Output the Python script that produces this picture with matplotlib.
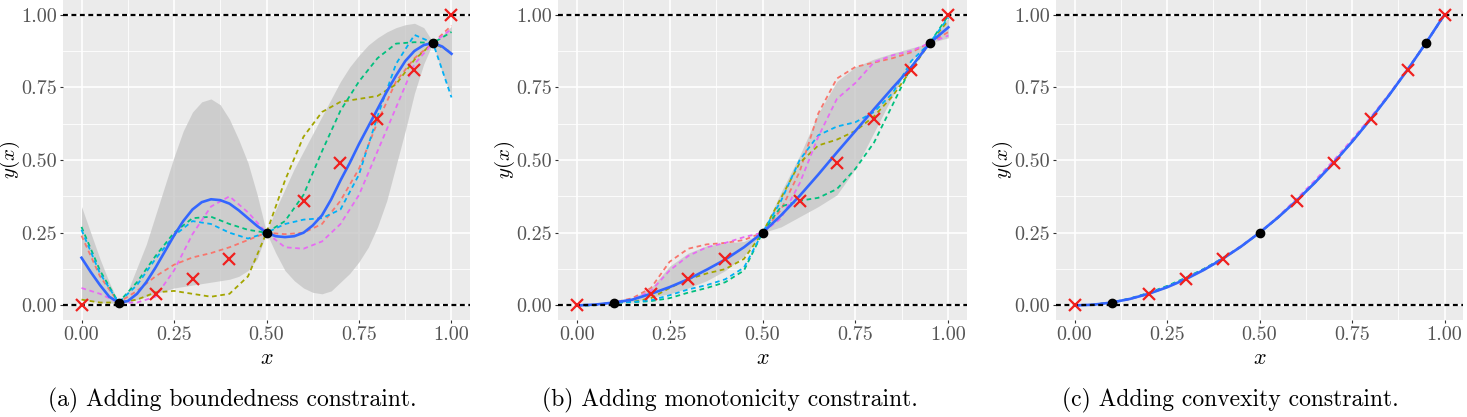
import numpy as np
import matplotlib
matplotlib.use("Agg")
import matplotlib.pyplot as plt

plt.rcParams['font.family'] = ['cmr10', 'DejaVu Serif']
plt.rcParams['mathtext.fontset'] = 'cm'
plt.rcParams['axes.formatter.use_mathtext'] = True
plt.rcParams['axes.unicode_minus'] = False

# common x grid of the read-off sample curves
x_grid = [0.0, 0.05, 0.1, 0.15, 0.2, 0.25, 0.3, 0.35, 0.4, 0.45, 0.5,
          0.55, 0.6, 0.65, 0.7, 0.75, 0.8, 0.85, 0.9, 0.95, 1.0]
# finer grid for the mean / band of panel (a)
x_fine = [0.0, 0.025, 0.05, 0.075, 0.1, 0.125, 0.15, 0.175, 0.2, 0.225, 0.25,
          0.275, 0.3, 0.325, 0.35, 0.375, 0.4, 0.425, 0.45, 0.475, 0.5,
          0.525, 0.55, 0.575, 0.6, 0.625, 0.65, 0.675, 0.7, 0.725, 0.75,
          0.775, 0.8, 0.825, 0.85, 0.875, 0.9, 0.925, 0.95, 0.975, 1.0]

# test points (red crosses) and training points (black dots)
test_x = [0.0, 0.2, 0.3, 0.4, 0.6, 0.7, 0.8, 0.9, 1.0]
test_y = [0.0, 0.04, 0.09, 0.16, 0.36, 0.49, 0.64, 0.81, 1.0]
train_x = [0.1, 0.5, 0.95]
train_y = [0.01, 0.25, 0.9025]

# (a) boundedness
a_mean = [0.164, 0.115, 0.07, 0.03, 0.01, 0.015, 0.04, 0.08, 0.13, 0.185, 0.24,
          0.29, 0.33, 0.355, 0.365, 0.362, 0.35, 0.327, 0.30, 0.273, 0.25,
          0.238, 0.235, 0.238, 0.25, 0.275, 0.31, 0.365, 0.43, 0.49, 0.555,
          0.615, 0.675, 0.735, 0.79, 0.84, 0.875, 0.895, 0.9025, 0.89, 0.865]
a_lower = [0.02, 0.015, 0.01, 0.009, 0.008, 0.012, 0.02, 0.03, 0.04, 0.05, 0.06,
           0.065, 0.07, 0.075, 0.08, 0.085, 0.09, 0.10, 0.12, 0.16, 0.25,
           0.18, 0.12, 0.085, 0.06, 0.045, 0.04, 0.05, 0.08, 0.11, 0.15,
           0.20, 0.27, 0.36, 0.48, 0.60, 0.73, 0.83, 0.9025, 0.80, 0.72]
a_upper = [0.34, 0.25, 0.16, 0.08, 0.012, 0.05, 0.13, 0.21, 0.31, 0.41, 0.51,
           0.60, 0.665, 0.70, 0.71, 0.69, 0.64, 0.57, 0.49, 0.38, 0.25,
           0.33, 0.40, 0.47, 0.53, 0.59, 0.65, 0.71, 0.77, 0.82, 0.86,
           0.895, 0.92, 0.94, 0.955, 0.965, 0.97, 0.955, 0.905, 0.93, 0.96]
a_samples = [
    [0.24, 0.10, 0.01, 0.05, 0.10, 0.14, 0.165, 0.18, 0.20, 0.225, 0.25,
     0.245, 0.25, 0.28, 0.36, 0.47, 0.63, 0.77, 0.85, 0.9025, 0.962],
    [0.02, 0.01, 0.01, 0.02, 0.045, 0.05, 0.04, 0.03, 0.04, 0.10, 0.25,
     0.43, 0.58, 0.665, 0.70, 0.71, 0.72, 0.76, 0.845, 0.9025, 0.87],
    [0.27, 0.12, 0.01, 0.08, 0.17, 0.25, 0.30, 0.305, 0.28, 0.26, 0.25,
     0.29, 0.38, 0.53, 0.67, 0.77, 0.85, 0.90, 0.905, 0.9025, 0.94],
    [0.26, 0.11, 0.01, 0.07, 0.16, 0.24, 0.29, 0.28, 0.25, 0.23, 0.25,
     0.28, 0.295, 0.30, 0.33, 0.45, 0.65, 0.83, 0.93, 0.9025, 0.715],
    [0.06, 0.04, 0.01, 0.01, 0.03, 0.12, 0.245, 0.34, 0.375, 0.32, 0.25,
     0.20, 0.195, 0.22, 0.28, 0.38, 0.53, 0.68, 0.83, 0.9025, 0.95],
]

# (b) monotonicity
b_mean = [0.0, 0.003, 0.01, 0.02, 0.04, 0.063, 0.09, 0.123, 0.158, 0.20, 0.25,
          0.31, 0.377, 0.45, 0.526, 0.60, 0.675, 0.748, 0.819, 0.9025, 0.956]
b_lower = [0.0, 0.002, 0.01, 0.012, 0.028, 0.04, 0.06, 0.085, 0.12, 0.17, 0.25,
           0.27, 0.305, 0.34, 0.38, 0.47, 0.595, 0.72, 0.84, 0.9025, 0.92]
b_upper = [0.0, 0.004, 0.01, 0.025, 0.06, 0.135, 0.18, 0.205, 0.215, 0.22, 0.25,
           0.39, 0.515, 0.66, 0.77, 0.82, 0.847, 0.867, 0.885, 0.9025, 0.99]
b_samples = [
    [0.0, 0.002, 0.01, 0.025, 0.06, 0.15, 0.195, 0.21, 0.215, 0.225, 0.25,
     0.33, 0.46, 0.66, 0.78, 0.82, 0.835, 0.85, 0.87, 0.9025, 0.94],
    [0.0, 0.001, 0.01, 0.012, 0.025, 0.06, 0.09, 0.11, 0.125, 0.16, 0.25,
     0.37, 0.49, 0.55, 0.57, 0.60, 0.65, 0.72, 0.81, 0.9025, 0.98],
    [0.0, 0.001, 0.01, 0.011, 0.015, 0.025, 0.044, 0.06, 0.08, 0.12, 0.25,
     0.34, 0.36, 0.37, 0.40, 0.47, 0.56, 0.69, 0.82, 0.9025, 0.997],
    [0.0, 0.001, 0.01, 0.012, 0.018, 0.035, 0.055, 0.07, 0.09, 0.13, 0.25,
     0.36, 0.50, 0.585, 0.615, 0.63, 0.665, 0.73, 0.84, 0.9025, 0.99],
    [0.0, 0.002, 0.01, 0.02, 0.05, 0.12, 0.17, 0.20, 0.215, 0.235, 0.25,
     0.30, 0.42, 0.58, 0.71, 0.765, 0.836, 0.86, 0.875, 0.9025, 0.928],
]

# (c) convexity
c_mean = [0.0, 0.0025, 0.01, 0.0225, 0.04, 0.0625, 0.09, 0.1225, 0.16, 0.2025, 0.25,
          0.3025, 0.36, 0.4225, 0.49, 0.5625, 0.64, 0.7225, 0.81, 0.9025, 1.0]
c_lower = [0.0, 0.002, 0.01, 0.021, 0.038, 0.06, 0.087, 0.12, 0.158, 0.2, 0.25,
           0.3, 0.357, 0.419, 0.487, 0.56, 0.637, 0.72, 0.808, 0.9025, 0.995]
c_upper = [0.0, 0.003, 0.01, 0.024, 0.042, 0.066, 0.094, 0.126, 0.163, 0.205, 0.25,
           0.306, 0.364, 0.427, 0.495, 0.567, 0.645, 0.727, 0.813, 0.9025, 1.0]
c_samples = [
    [0.0, 0.0025, 0.01, 0.023, 0.041, 0.064, 0.092, 0.124, 0.161, 0.203, 0.25,
     0.302, 0.36, 0.423, 0.49, 0.563, 0.641, 0.723, 0.81, 0.9025, 0.998],
    [0.0, 0.0025, 0.01, 0.022, 0.04, 0.063, 0.091, 0.123, 0.16, 0.202, 0.25,
     0.303, 0.361, 0.424, 0.492, 0.565, 0.642, 0.724, 0.811, 0.9025, 0.999],
    [0.0, 0.0025, 0.01, 0.024, 0.043, 0.067, 0.095, 0.126, 0.162, 0.203, 0.25,
     0.302, 0.36, 0.422, 0.49, 0.562, 0.64, 0.722, 0.81, 0.9025, 1.0],
    [0.0, 0.0025, 0.01, 0.023, 0.042, 0.065, 0.093, 0.125, 0.161, 0.203, 0.25,
     0.303, 0.361, 0.423, 0.491, 0.563, 0.641, 0.723, 0.81, 0.9025, 1.0],
    [0.0, 0.0025, 0.01, 0.022, 0.04, 0.063, 0.09, 0.123, 0.161, 0.204, 0.25,
     0.305, 0.366, 0.43, 0.498, 0.57, 0.646, 0.726, 0.812, 0.9025, 1.0],
]

sample_colors = ['#F8766D', '#A3A500', '#00BF7D', '#00B0F6', '#E76BF3']
ticks = [0.0, 0.25, 0.5, 0.75, 1.0]
tick_labels = ['0.00', '0.25', '0.50', '0.75', '1.00']
captions = ['(a) Adding boundedness constraint.',
            '(b) Adding monotonicity constraint.',
            '(c) Adding convexity constraint.']

W, H = 1467, 417
fig = plt.figure(figsize=(W / 100, H / 100), dpi=100)

panels = [
    (63, 470, 232, x_fine, a_mean, a_lower, a_upper, a_samples),
    (558, 967, 730, x_grid, b_mean, b_lower, b_upper, b_samples),
    (1056, 1463, 1230, x_grid, c_mean, c_lower, c_upper, c_samples),
]

for i, (left, right, cap_x, xm, mean, lower, upper, samples) in enumerate(panels):
    top, bottom = 0, 320
    ax = fig.add_axes([left / W, (H - bottom) / H, (right - left) / W, (bottom - top) / H])
    ax.set_facecolor('#EBEBEB')
    for s in ax.spines.values():
        s.set_visible(False)
    ax.set_xlim(-0.05, 1.05)
    ax.set_ylim(-0.05, 1.05)
    ax.set_xticks(ticks)
    ax.set_xticklabels(tick_labels)
    ax.set_yticks(ticks)
    ax.set_yticklabels(tick_labels)
    ax.set_xticks([0.125, 0.375, 0.625, 0.875], minor=True)
    ax.set_yticks([0.125, 0.375, 0.625, 0.875], minor=True)
    ax.grid(True, which='major', color='white', lw=1.2)
    ax.grid(True, which='minor', color='white', lw=0.6)
    ax.set_axisbelow(True)
    ax.tick_params(which='major', length=2.5, width=0.8, color='#333333',
                   labelcolor='#555555', labelsize=14.5, pad=2)
    ax.tick_params(which='minor', length=0)

    ax.fill_between(xm, lower, upper, color='#c4c4c4', alpha=0.75, lw=0, zorder=1)
    for ys, c in zip(samples, sample_colors):
        ax.plot(x_grid, ys, color=c, lw=1.3, ls=(0, (2.6, 2.0)), zorder=2)
    ax.plot(xm, mean, color='#3366FF', lw=1.9, zorder=3)
    ax.axhline(0, color='black', lw=1.6, ls=(0, (2.2, 1.6)), zorder=4)
    ax.axhline(1, color='black', lw=1.6, ls=(0, (2.2, 1.6)), zorder=4)
    ax.plot(test_x, test_y, 'x', color='#F0201E', ms=9, mew=1.6, zorder=5)
    ax.plot(train_x, train_y, 'o', color='black', ms=6, zorder=6)

    ax.set_xlabel('$x$', fontsize=16, labelpad=3)
    ax.set_ylabel('$y(x)$', fontsize=15)
    ax.yaxis.set_label_coords(-41 / (right - left), 0.5)

    fig.text(cap_x / W, 17 / H, captions[i], ha='center', va='center', fontsize=17)

fig.savefig('out.png', dpi=100)
